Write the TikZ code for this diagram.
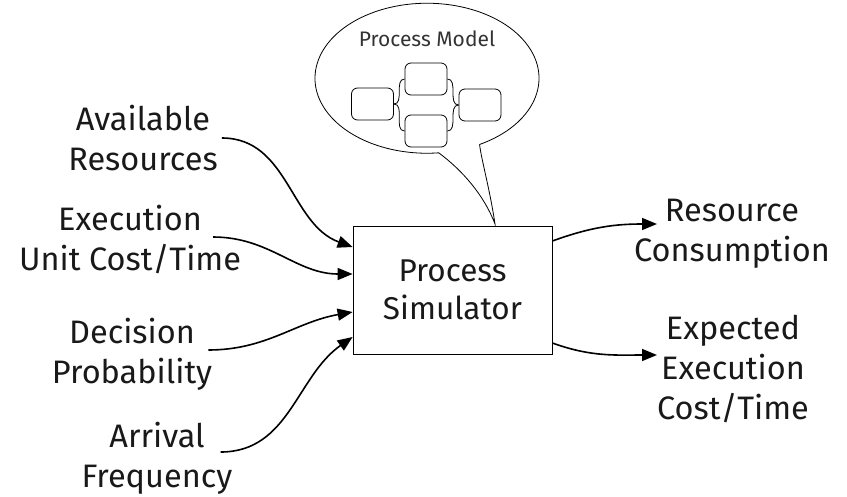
\documentclass[tikz,border=0pt]{standalone}
\usepackage{fontspec}
\setmainfont{Fira Sans}
\usetikzlibrary{arrows.meta,calc}
\begin{document}
\begin{tikzpicture}[x=1pt,y=1pt,
  lbl/.style={align=center, font=\fontsize{32.5}{40}\selectfont, inner sep=0pt, text=black!90},
  boxtext/.style={align=center, font=\fontsize{31.5}{38}\selectfont, text=black!90},
  flow/.style={line width=1.6pt, -{Triangle[length=15pt,width=12pt]}},
  mini/.style={draw, rounded corners=6pt, minimum width=42pt, minimum height=32pt, line width=0.8pt, inner sep=0pt},
  minilink/.style={line width=0.8pt},
  bubble/.style={line width=0.8pt}]
\useasboundingbox (0,0) rectangle (847,-496);

% main box
\node[draw, line width=0.8pt, minimum width=199pt, minimum height=128pt, boxtext] (sim) at (452.5,-290) {Process\\Simulator};

% left labels
\node[lbl] (avail) at (143,-138) {Available\\Resources};
\node[lbl] (exec) at (130,-240) {Execution\\Unit Cost/Time};
\node[lbl] (dec) at (132,-354) {Decision\\Probability};
\node[lbl] (arr) at (157,-458) {Arrival\\Frequency};

% right labels
\node[lbl] (res) at (732,-234) {Resource\\Consumption};
\node[lbl] (expd) at (733,-369) {Expected\\Execution\\Cost/Time};

% input arrows
\draw[flow] ([xshift=4pt]avail.east) to[out=0,in=160] ([yshift=43pt]sim.west);
\draw[flow] ([xshift=-28pt,yshift=3pt]exec.east) to[out=0,in=180] ([yshift=16pt]sim.west);
\draw[flow] ([xshift=-4pt,yshift=4pt]dec.east) to[out=0,in=190] ([yshift=-22pt]sim.west);
\draw[flow] ([xshift=-12pt,yshift=6pt]arr.east) to[out=0,in=215] ([yshift=-47pt]sim.west);

% output arrows
\draw[flow] ([yshift=49pt]sim.east) to[out=20,in=180] (657,-224) coordinate (resin);
\draw[flow] ([yshift=-53pt]sim.east) to[out=-20,in=180] (657,-355) coordinate (expin);

% speech bubble
\coordinate (bA) at ($(427,-80)+(-62:112 and 73)$);
\coordinate (tip) at (495,-224);
\draw[bubble] (bA) arc[start angle=-62, end angle=276, x radius=112, y radius=75] coordinate (bB)
  .. controls (462,-170) and (484,-195) .. (tip)
  .. controls (490,-190) and (481,-158) .. (bA);

\node[font=\fontsize{21}{25}\selectfont, text=black!80] (pm) at (427,-39) {Process Model};

\node[mini] (m1) at (372.5,-104) {};
\node[mini] (m2) at (426,-79) {};
\node[mini] (m3) at (426,-131) {};
\node[mini] (m4) at (480,-105) {};
\draw[minilink] (m1.east) to[out=0,in=180] (m2.west);
\draw[minilink] (m1.east) to[out=0,in=180] (m3.west);
\draw[minilink] (m2.east) to[out=0,in=180] (m4.west);
\draw[minilink] (m3.east) to[out=0,in=180] (m4.west);
\end{tikzpicture}
\end{document}
